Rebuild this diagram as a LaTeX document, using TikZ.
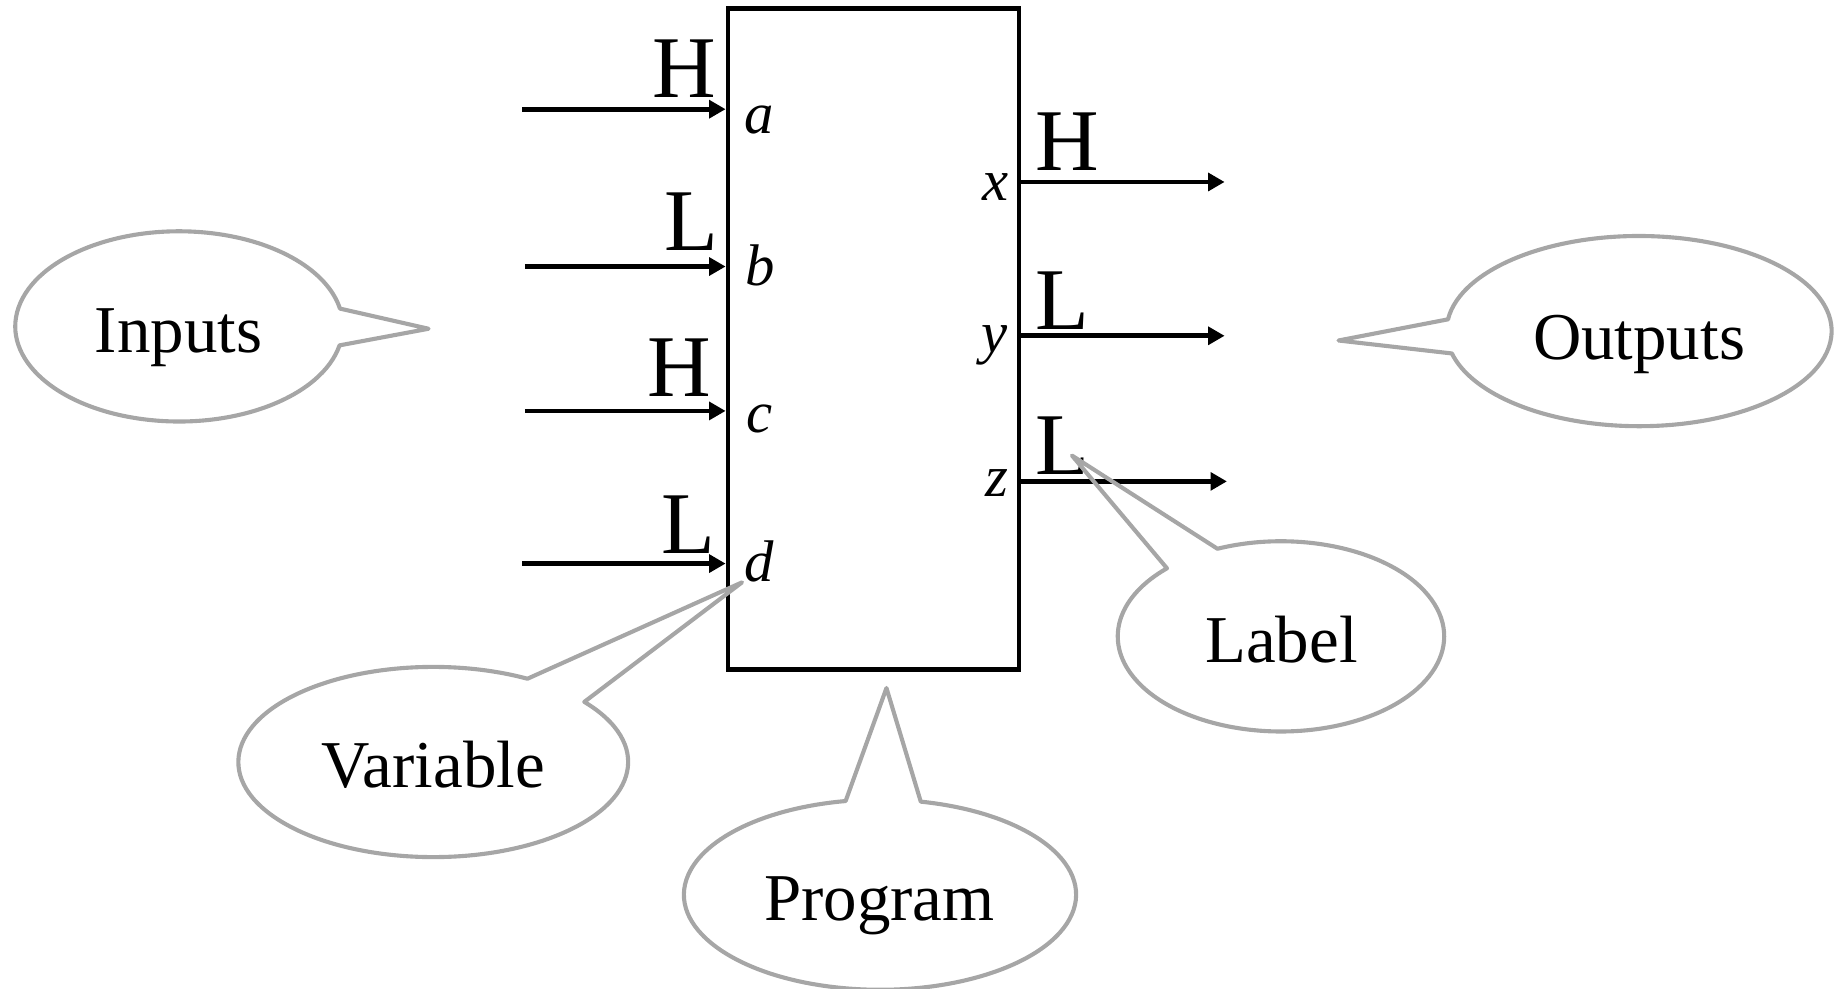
\documentclass[tikz,border=0pt]{standalone}
\usepackage{fontspec}
\setmainfont{Liberation Serif}
\usetikzlibrary{arrows.meta}
\definecolor{calloutgray}{RGB}{166,166,166}
\begin{document}
\begin{tikzpicture}[x=1pt, y=-1pt,
  wire/.style={line width=4pt, -{Triangle[length=14pt,width=15pt]}},
  level/.style={inner sep=0pt, font=\fontsize{75}{80}\selectfont},
  port/.style={inner sep=0pt, font=\fontsize{50}{54}\selectfont\itshape},
  balloon/.style={draw=calloutgray, line width=3.5pt, line join=round},
  balloontext/.style={inner sep=0pt, anchor=base, font=\fontsize{57}{62}\selectfont}]
\useasboundingbox (0,0) rectangle (1568,842);

% program block
\node[draw, line width=4pt, minimum width=248pt, minimum height=563pt, inner sep=0pt] (prog) at (744,289) {};

% input wires
\coordinate (ina) at (445,93);
\coordinate (inb) at (447,227);
\coordinate (inc) at (447,350);
\coordinate (ind) at (445,480);
\draw[wire] (ina) -- (ina -| prog.west);
\draw[wire] (inb) -- (inb -| prog.west);
\draw[wire] (inc) -- (inc -| prog.west);
\draw[wire] (ind) -- (ind -| prog.west);

% output wires
\coordinate (outx) at (1043,155);
\coordinate (outy) at (1043,286);
\coordinate (outz) at (1045,410);
\draw[wire] (outx -| prog.east) -- (outx);
\draw[wire] (outy -| prog.east) -- (outy);
\draw[wire] (outz -| prog.east) -- (outz);

% signal levels
\node[level, anchor=base east] (lva) at (610,83) {H};
\node[level, anchor=base east] (lvb) at (612,213) {L};
\node[level, anchor=base east] (lvc) at (606,338) {H};
\node[level, anchor=base east] (lvd) at (609,471) {L};
\node[level, anchor=base west] (lvx) at (882,145) {H};
\node[level, anchor=base west] (lvy) at (882,281) {L};
\node[level, anchor=base west] (lvz) at (882,404) {L};

% variable names
\node[port, anchor=base west] (pa) at (634,114) {a};
\node[port, anchor=base west] (pb) at (635,243) {b};
\node[port, anchor=base west] (pc) at (636,368) {c};
\node[port, anchor=base west] (pd) at (634,495) {d};
\node[port, anchor=base east] (px) at (859,171) {x};
\node[port, anchor=base east] (py) at (858,300) {y};
\node[port, anchor=base east] (pz) at (859,423) {z};

% callouts
\node[balloontext] (tin) at (152,300) {Inputs};
\coordinate (cin) at (152.5,278);
\coordinate (tipin) at (365,280);
\draw[balloon] (cin) ++(11.5:139.5 and 81)
  arc[start angle=11.5, end angle=349.2, x radius=139.5, y radius=81] -- (tipin) -- cycle;

\node[balloontext] (tout) at (1396,306) {Outputs};
\coordinate (cout) at (1396,282);
\coordinate (tipout) at (1140,290);
\draw[balloon] (cout) ++(187.1:164 and 81)
  arc[start angle=187.1, end angle=526.4, x radius=164, y radius=81] -- (tipout) -- cycle;

\node[balloontext] (tlab) at (1091.5,564) {Label};
\coordinate (clab) at (1091,542);
\coordinate (tiplab) at (913,388);
\draw[balloon] (clab) ++(247.1:139 and 81)
  arc[start angle=247.1, end angle=585.7, x radius=139, y radius=81] -- (tiplab) -- cycle;

\node[balloontext] (tvar) at (369,671) {Variable};
\coordinate (cvar) at (369,649);
\coordinate (tipvar) at (632,496);
\draw[balloon] (cvar) ++(320.8:166 and 81)
  arc[start angle=320.8, end angle=658.9, x radius=166, y radius=81] -- (tipvar) -- cycle;

\node[balloontext] (tprog) at (749,784) {Program};
\coordinate (cprog) at (749.5,762);
\coordinate (tipprog) at (755,586);
\draw[balloon] (cprog) ++(282:167 and 81)
  arc[start angle=282, end angle=619.9, x radius=167, y radius=81] -- (tipprog) -- cycle;
\end{tikzpicture}
\end{document}
